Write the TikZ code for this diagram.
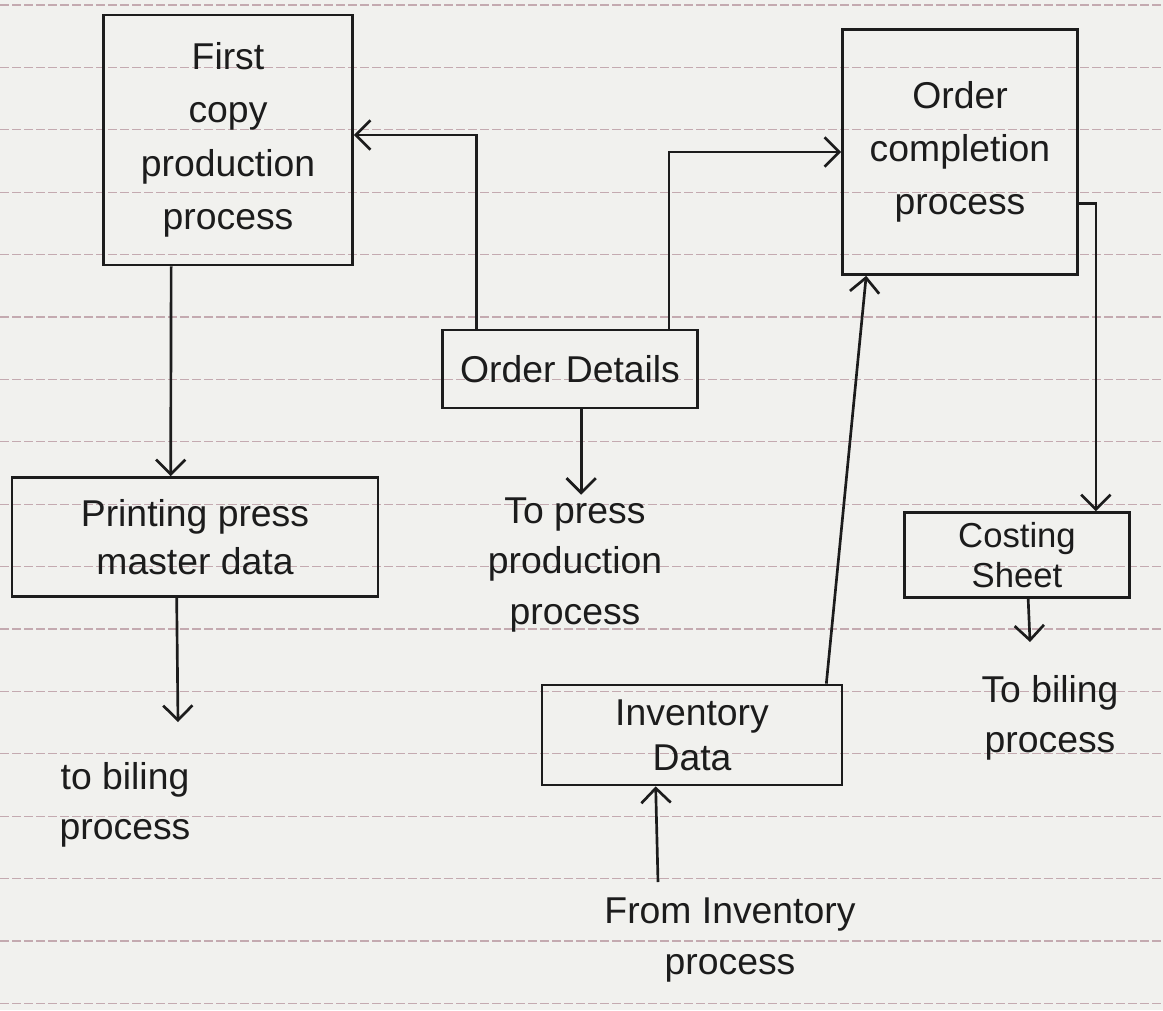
\documentclass[tikz,border=0pt]{standalone}
\usepackage{fontspec}
\setmainfont{Liberation Sans}
\usetikzlibrary{arrows.meta,calc}
\definecolor{paper}{RGB}{241,241,238}
\definecolor{inkc}{RGB}{28,28,28}
\definecolor{rulec}{RGB}{196,170,176}
\begin{document}
\begin{tikzpicture}[x=0.75pt,y=-0.75pt,
  ink/.style={draw=inkc, line width=2pt},
  box/.style={ink, rectangle, inner sep=0pt, align=center, text=inkc,
              font=\fontsize{28}{40}\selectfont},
  lbl/.style={align=center, text=inkc, inner sep=2pt,
              font=\fontsize{28}{38}\selectfont},
  flow/.style={ink, -{Straight Barb[length=11pt,width=22pt,line width=2pt]}},
  rule/.style={draw=rulec, line width=0.9pt, dash pattern=on 7pt off 2pt}]

% notebook page
\fill[paper] (0,0) rectangle (1163,1010);
\useasboundingbox (0,0) rectangle (1163,1010);
\foreach \k in {0,...,16}
  \draw[rule] (0,{5+62.4*\k}) -- (1163,{5+62.4*\k});

% processes and data stores
\node[box, minimum width=249*0.75pt, minimum height=250*0.75pt] (fcp) at (228,140)
  {First\\copy\\production\\process};
\node[box, minimum width=235*0.75pt, minimum height=245*0.75pt] (ocp) at (960,152)
  {Order\\completion\\process};
\node[box, minimum width=255*0.75pt, minimum height=78*0.75pt] (od) at (570,369)
  {Order Details};
\node[box, minimum width=366*0.75pt, minimum height=119*0.75pt,
      font=\fontsize{28}{36}\selectfont] (ppm) at (195,537)
  {Printing press\\master data};
\node[box, minimum width=225*0.75pt, minimum height=85*0.75pt,
      font=\fontsize{26}{30}\selectfont] (cs) at (1017,555)
  {Costing\\Sheet};
\node[box, minimum width=300*0.75pt, minimum height=100*0.75pt,
      font=\fontsize{28}{34}\selectfont] (inv) at (692,735)
  {Inventory\\Data};

% external sources and sinks
\node[lbl] (press) at (575,565) {To press\\production\\process};
\node[lbl] (bill1) at (125,805) {to biling\\process};
\node[lbl] (bill2) at (1050,718) {To biling\\process};
\node[lbl] (from) at (730,940) {From Inventory\\process};
\coordinate (b1) at (178,722);
\coordinate (b2) at (1030,642);
\coordinate (f0) at (658,882);
\coordinate (p0) at ($(od.south west)+(140,0)$);

% data flows
\draw[flow] ($(od.north west)+(35,0)$) |- ($(fcp.east)+(0,-5)$);
\draw[flow] ($(od.north east)+(-30,0)$) |- (ocp.west);
\draw[flow] ($(fcp.south west)+(69,0)$) -- ($(ppm.north west)+(160,0)$);
\draw[flow] ($(ppm.south west)+(166,0)$) -- (b1);
\draw[flow] (p0) -- (p0 |- press.north);
\draw[flow] ($(ocp.north east)+(0,175)$) -| ($(cs.north east)+(-35,0)$);
\draw[flow] ($(cs.south west)+(125,0)$) -- (b2);
\draw[flow] ($(inv.north east)+(-17,0)$) -- ($(ocp.south west)+(25,0)$);
\draw[flow] (f0) -- ($(inv.south west)+(115,0)$);
\end{tikzpicture}
\end{document}
